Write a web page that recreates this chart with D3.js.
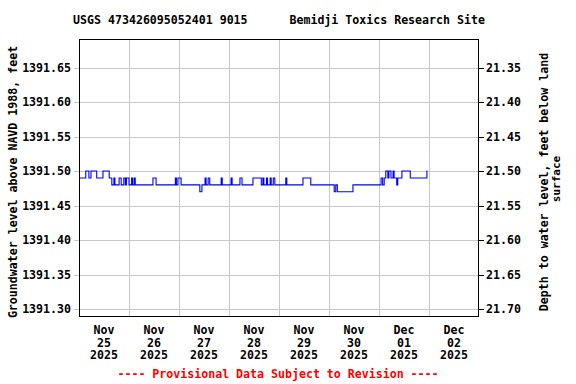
<!DOCTYPE html>
<html>
<head>
<meta charset="utf-8">
<script src="https://cdn.jsdelivr.net/npm/d3@7.9.0/dist/d3.min.js"></script>
<style>
  body { margin: 0; background: #fff; }
  svg text { font-family: "DejaVu Sans Mono", monospace; font-weight: bold; font-size: 11.6px; fill: #000; }
</style>
</head>
<body>
<svg id="chart" width="576" height="384"></svg>
<script>
// readings (local time), groundwater level in feet above NAVD 1988
const times = [
  '2025-11-25 00:00', '2025-11-25 03:15', '2025-11-25 04:45', '2025-11-25 05:45', '2025-11-25 08:30',
  '2025-11-25 11:30', '2025-11-25 14:30', '2025-11-25 15:45', '2025-11-25 16:45', '2025-11-25 17:15',
  '2025-11-25 19:15', '2025-11-25 20:15', '2025-11-25 21:30', '2025-11-25 22:15', '2025-11-25 22:45',
  '2025-11-26 00:00', '2025-11-26 01:15', '2025-11-26 01:45', '2025-11-26 02:30', '2025-11-26 03:00',
  '2025-11-26 11:30', '2025-11-26 13:00', '2025-11-26 22:15', '2025-11-26 22:45', '2025-11-26 23:30',
  '2025-11-27 01:00', '2025-11-27 10:00', '2025-11-27 11:00', '2025-11-27 12:30', '2025-11-27 13:00',
  '2025-11-27 14:00', '2025-11-27 14:45', '2025-11-27 20:15', '2025-11-27 20:45', '2025-11-28 01:00',
  '2025-11-28 01:30', '2025-11-28 05:15', '2025-11-28 06:15', '2025-11-28 11:30', '2025-11-28 15:30',
  '2025-11-28 16:15', '2025-11-28 16:45', '2025-11-28 18:00', '2025-11-28 18:30', '2025-11-28 19:45',
  '2025-11-28 20:15', '2025-11-28 21:15', '2025-11-28 22:00', '2025-11-29 03:15', '2025-11-29 03:45',
  '2025-11-29 11:30', '2025-11-29 15:15', '2025-11-30 02:30', '2025-11-30 03:15', '2025-11-30 04:00',
  '2025-11-30 11:30', '2025-12-01 01:00', '2025-12-01 01:45', '2025-12-01 02:30', '2025-12-01 03:15',
  '2025-12-01 04:15', '2025-12-01 04:45', '2025-12-01 05:45', '2025-12-01 06:45', '2025-12-01 07:15',
  '2025-12-01 08:30', '2025-12-01 09:00', '2025-12-01 11:00', '2025-12-01 15:00', '2025-12-01 23:00',
  '2025-12-01 23:15'
];
const levels = [
  1391.49, 1391.50, 1391.49, 1391.50, 1391.49,
  1391.50, 1391.49, 1391.48, 1391.49, 1391.48,
  1391.49, 1391.48, 1391.49, 1391.48, 1391.49,
  1391.48, 1391.49, 1391.48, 1391.49, 1391.48,
  1391.49, 1391.48, 1391.49, 1391.48, 1391.49,
  1391.48, 1391.47, 1391.48, 1391.49, 1391.48,
  1391.49, 1391.48, 1391.49, 1391.48, 1391.49,
  1391.48, 1391.49, 1391.48, 1391.49, 1391.48,
  1391.49, 1391.48, 1391.49, 1391.48, 1391.49,
  1391.48, 1391.49, 1391.48, 1391.49, 1391.48,
  1391.49, 1391.48, 1391.47, 1391.48, 1391.47,
  1391.48, 1391.49, 1391.48, 1391.49, 1391.50,
  1391.49, 1391.50, 1391.49, 1391.50, 1391.49,
  1391.48, 1391.49, 1391.50, 1391.49, 1391.50,
  1391.50
];

const elevTicks = [1391.30, 1391.35, 1391.40, 1391.45, 1391.50, 1391.55, 1391.60, 1391.65];
const depthTicks = [21.35, 21.40, 21.45, 21.50, 21.55, 21.60, 21.65, 21.70];
const landSurface = 1413.00; // depth = landSurface - elevation
const dayLabels = [
  ['Nov', '25', '2025'], ['Nov', '26', '2025'], ['Nov', '27', '2025'], ['Nov', '28', '2025'],
  ['Nov', '29', '2025'], ['Nov', '30', '2025'], ['Dec', '01', '2025'], ['Dec', '02', '2025']
];

const parse = d3.timeParse('%Y-%m-%d %H:%M');
const data = times.map((t, i) => ({ t: parse(t), v: levels[i] }));

const svg = d3.select('#chart');
const plotLeft = 79, plotRight = 479, plotTop = 39, plotBottom = 316;

const start = parse('2025-11-25 00:00');
const end = parse('2025-12-03 00:00');
const x = d3.scaleTime().domain([start, end]).range([plotLeft, plotRight]);
const y = d3.scaleLinear().domain([1391.2899, 1391.6914]).range([plotBottom, plotTop]);
const yDepth = d3.scaleLinear()
  .domain([landSurface - 1391.2899, landSurface - 1391.6914])
  .range([plotBottom, plotTop]);

// grid
const days = d3.timeDay.range(d3.timeDay.offset(start, 1), end);
svg.append('g')
  .selectAll('line')
  .data(days)
  .join('line')
  .attr('x1', d => Math.round(x(d)) + 0.5)
  .attr('x2', d => Math.round(x(d)) + 0.5)
  .attr('y1', plotTop)
  .attr('y2', plotBottom)
  .attr('stroke', '#c8c8c8');

svg.append('g')
  .selectAll('line')
  .data(elevTicks)
  .join('line')
  .attr('x1', plotLeft - 5)
  .attr('x2', plotRight)
  .attr('y1', d => Math.round(y(d)) + 0.5)
  .attr('y2', d => Math.round(y(d)) + 0.5)
  .attr('stroke', '#c8c8c8');

// right ticks
svg.append('g')
  .selectAll('line')
  .data(depthTicks)
  .join('line')
  .attr('x1', plotRight)
  .attr('x2', plotRight + 5)
  .attr('y1', d => Math.round(yDepth(d)) + 0.5)
  .attr('y2', d => Math.round(yDepth(d)) + 0.5)
  .attr('stroke', '#000');

// frame
svg.append('rect')
  .attr('x', plotLeft + 0.5)
  .attr('y', plotTop + 0.5)
  .attr('width', plotRight - plotLeft - 1)
  .attr('height', plotBottom - plotTop)
  .attr('fill', 'none')
  .attr('stroke', '#000');

// data line
const line = d3.line()
  .x(d => x(d.t))
  .y(d => y(d.v))
  .curve(d3.curveStepAfter);

svg.append('path')
  .datum(data)
  .attr('d', line)
  .attr('fill', 'none')
  .attr('stroke', '#0000ff')
  .attr('stroke-width', 1.1);

// left labels
svg.append('g')
  .selectAll('text')
  .data(elevTicks)
  .join('text')
  .attr('x', 71)
  .attr('y', d => y(d) + 4.3)
  .attr('text-anchor', 'end')
  .text(d => d.toFixed(2));

// right labels
svg.append('g')
  .selectAll('text')
  .data(depthTicks)
  .join('text')
  .attr('x', 486)
  .attr('y', d => yDepth(d) + 4.3)
  .text(d => d.toFixed(2));

// day labels at noon
const noon = days.map(d => d3.timeHour.offset(d, -12)).concat([d3.timeHour.offset(end, -12)]);
const dayG = svg.append('g')
  .selectAll('text')
  .data(dayLabels)
  .join('text')
  .attr('text-anchor', 'middle');
dayG.each(function (d, i) {
  const cx = x(noon[i]);
  d3.select(this).selectAll('tspan')
    .data(d)
    .join('tspan')
    .attr('x', cx)
    .attr('y', (s, j) => 334 + j * 12.7)
    .text(s => s);
});

// title
svg.append('text')
  .attr('x', 279)
  .attr('y', 24)
  .attr('text-anchor', 'middle')
  .style('white-space', 'pre')
  .text('USGS 473426095052401 9015      Bemidji Toxics Research Site');

// axis titles
svg.append('text')
  .attr('transform', 'translate(17,182) rotate(-90)')
  .attr('text-anchor', 'middle')
  .text('Groundwater level above NAVD 1988, feet');

svg.append('text')
  .attr('transform', 'translate(548,182) rotate(-90)')
  .attr('text-anchor', 'middle')
  .text('Depth to water level, feet below land');

svg.append('text')
  .attr('transform', 'translate(560,179) rotate(-90)')
  .attr('text-anchor', 'middle')
  .style('font-size', '11px')
  .text('surface');

// footer
svg.append('text')
  .attr('x', 278)
  .attr('y', 378)
  .attr('text-anchor', 'middle')
  .style('fill', '#ff0000')
  .style('white-space', 'pre')
  .text('---- Provisional Data Subject to Revision ----');
</script>
</body>
</html>
